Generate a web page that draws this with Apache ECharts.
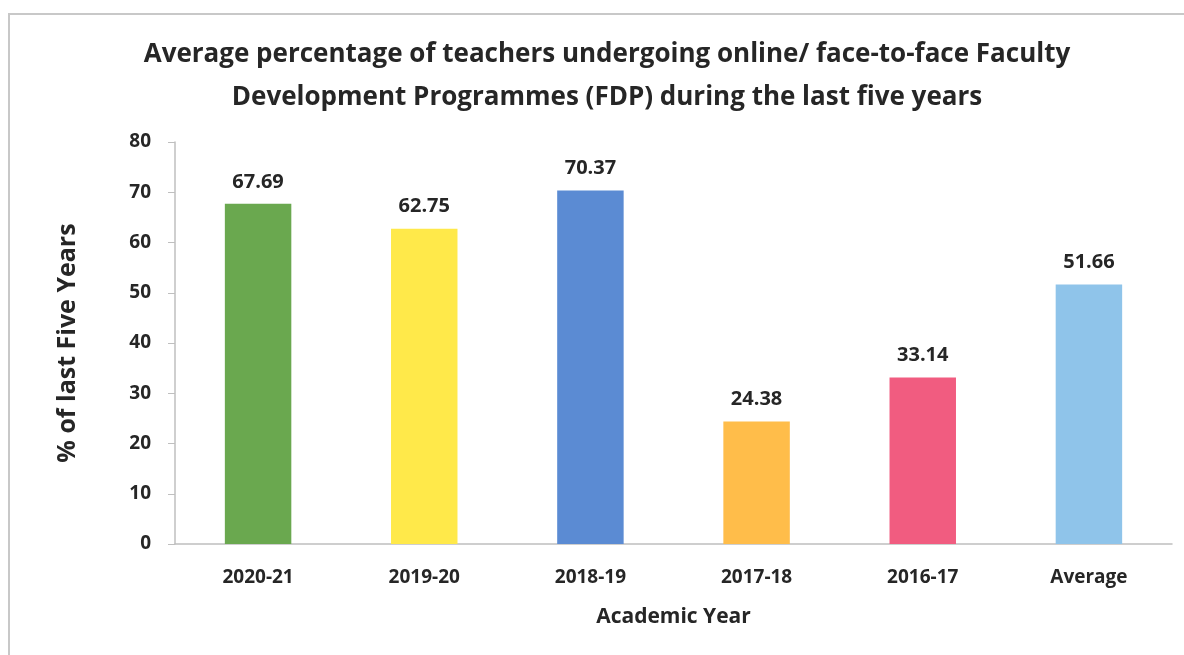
<!DOCTYPE html>
<html>
<head>
<meta charset="utf-8">
<script src="https://cdn.jsdelivr.net/npm/echarts@6/dist/echarts.min.js"></script>
<style>
  html, body { margin: 0; padding: 0; background: #fff; }
  #chart { width: 1184px; height: 655px; }
</style>
</head>
<body>
<div id="chart"></div>
<script>
const categories = ["2020-21", "2019-20", "2018-19", "2017-18", "2016-17", "Average"];
const values = [67.69, 62.75, 70.37, 24.38, 33.14, 51.66];
const barColors = ["#6aa84f", "#ffe94a", "#5b8bd3", "#ffbd4a", "#f15c80", "#8fc4ea"];
const yTicks = [0, 10, 20, 30, 40, 50, 60, 70, 80];

const font = "'Open Sans', sans-serif";
const textColor = "#262626";

const chart = echarts.init(document.getElementById("chart"));

const option = {
  backgroundColor: "#fff",
  animation: false,
  graphic: [
    {
      type: "rect",
      shape: { x: 9, y: 14, width: 1300, height: 800 },
      style: { fill: "none", stroke: "#c8c8c8", lineWidth: 2 },
      silent: true,
    },
  ],
  title: {
    text: "Average percentage of teachers undergoing online/ face-to-face Faculty\nDevelopment Programmes (FDP) during the last five years",
    left: 602,
    textAlign: "center",
    top: 28,
    textStyle: {
      fontFamily: font,
      fontWeight: "bold",
      fontSize: 26,
      lineHeight: 43,
      color: textColor,
    },
  },
  grid: {
    left: 175,
    right: 12,
    top: 142,
    bottom: 111,
  },
  xAxis: {
    type: "category",
    data: categories,
    name: "Academic Year",
    nameLocation: "middle",
    nameGap: 63,
    nameTextStyle: {
      fontFamily: font,
      fontWeight: "bold",
      fontSize: 21,
      color: textColor,
    },
    axisLine: { lineStyle: { color: "#bfbfbf", width: 1.5 } },
    axisTick: { show: false },
    axisLabel: {
      margin: 24,
      fontFamily: font,
      fontWeight: "bold",
      fontSize: 19,
      color: textColor,
    },
  },
  yAxis: {
    type: "value",
    min: yTicks[0],
    max: yTicks[yTicks.length - 1],
    interval: 10,
    name: "% of last Five Years",
    nameLocation: "middle",
    nameGap: 95,
    nameTextStyle: {
      fontFamily: font,
      fontWeight: "bold",
      fontSize: 25,
      color: textColor,
    },
    axisLine: { show: true, lineStyle: { color: "#bfbfbf", width: 1.5 } },
    axisTick: { show: true, length: 7, inside: false, lineStyle: { color: "#bfbfbf" } },
    splitLine: { show: false },
    axisLabel: {
      margin: 24,
      fontFamily: font,
      fontWeight: "bold",
      fontSize: 19,
      color: textColor,
    },
  },
  series: [
    {
      type: "bar",
      data: values.map((v, i) => ({ value: v, itemStyle: { color: barColors[i] } })),
      barWidth: "40%",
      label: {
        show: true,
        position: "top",
        distance: 12,
        formatter: (p) => p.value.toFixed(2),
        fontFamily: font,
        fontWeight: "bold",
        fontSize: 20,
        color: textColor,
      },
    },
  ],
};

chart.setOption(option);
</script>
</body>
</html>
